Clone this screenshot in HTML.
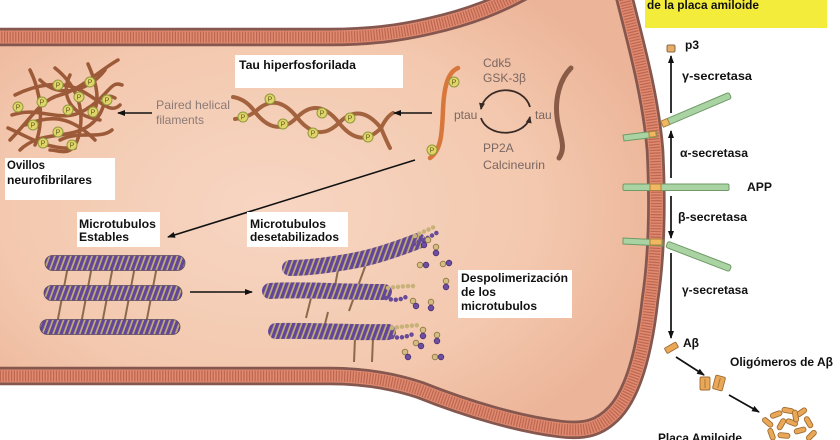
<!DOCTYPE html>
<html><head><meta charset="utf-8"><style>
html,body{margin:0;padding:0;background:#fff;}
svg{display:block;}
</style></head><body>
<svg width="840" height="440" viewBox="0 0 840 440" xmlns="http://www.w3.org/2000/svg" font-family="'Liberation Sans', Arial, sans-serif">
<defs>
 <radialGradient id="cyto" cx="0.42" cy="0.5" r="0.62">
  <stop offset="0" stop-color="#f7d6c3"/>
  <stop offset="0.65" stop-color="#f3c8ae"/>
  <stop offset="1" stop-color="#ecb498"/>
 </radialGradient>
 <pattern id="mt" patternUnits="userSpaceOnUse" width="5" height="5" patternTransform="rotate(20)">
  <rect width="5" height="5" fill="#c4ad75"/>
  <rect width="3.3" height="5" fill="#62469a"/>
 </pattern>
 <marker id="ah" markerWidth="8" markerHeight="6" refX="7" refY="3" orient="auto" markerUnits="userSpaceOnUse">
  <path d="M0,0 L8,3 L0,6 Z" fill="#111"/>
 </marker>
 <marker id="ah2" markerWidth="7" markerHeight="6" refX="6" refY="3" orient="auto" markerUnits="userSpaceOnUse">
  <path d="M0,0 L7,3 L0,6 Z" fill="#3a2a26"/>
 </marker>
</defs>

<!-- cytoplasm -->
<path d="M-10,37 L330,37 C370,37 400,33 430,26 C470,17 500,5 530,-12 L622,-12 C632,30 650,90 655,150 C658,210 656,260 650,300 C645,345 635,390 615,412 C600,428 585,432 560,429 C520,424 470,410 420,390 C390,380 360,376 330,376 L-10,376 Z" fill="url(#cyto)"/>

<!-- membranes -->
<g fill="none">
 <path d="M-10,37 L330,37 C370,37 400,33 430,26 C470,17 500,5 530,-12" stroke="#85574e" stroke-width="18.5"/>
 <path d="M-10,37 L330,37 C370,37 400,33 430,26 C470,17 500,5 530,-12" stroke="#e08a70" stroke-width="13"/>
 <path d="M-10,37 L330,37 C370,37 400,33 430,26 C470,17 500,5 530,-12" stroke="#bd6651" stroke-width="11" stroke-dasharray="1.2 1.6"/>
 <path d="M622,-12 C632,30 650,90 655,150 C658,210 656,260 650,300 C645,345 635,390 615,412 C600,428 585,432 560,429 C520,424 470,410 420,390 C390,380 360,376 330,376 L-10,376" stroke="#85574e" stroke-width="18.5"/>
 <path d="M622,-12 C632,30 650,90 655,150 C658,210 656,260 650,300 C645,345 635,390 615,412 C600,428 585,432 560,429 C520,424 470,410 420,390 C390,380 360,376 330,376 L-10,376" stroke="#e08a70" stroke-width="13"/>
 <path d="M622,-12 C632,30 650,90 655,150 C658,210 656,260 650,300 C645,345 635,390 615,412 C600,428 585,432 560,429 C520,424 470,410 420,390 C390,380 360,376 330,376 L-10,376" stroke="#bd6651" stroke-width="11" stroke-dasharray="1.2 1.6"/>
</g>

<!-- yellow title box -->
<rect x="645" y="-2" width="182" height="30" fill="#f4ec3a"/>
<text x="647" y="9" font-size="12" font-weight="bold" fill="#111" textLength="112" lengthAdjust="spacingAndGlyphs">de la placa amiloide</text>

<!-- tangle -->
<g fill="none" stroke="#9c5a38" stroke-width="3.5" stroke-linecap="round">
 <path d="M10,140 C30,120 40,100 60,95 S100,70 118,60"/>
 <path d="M15,95 C35,85 60,80 80,90 S110,115 120,105"/>
 <path d="M20,150 C40,130 70,140 90,125 S100,90 115,98"/>
 <path d="M30,70 C40,90 45,120 35,145"/>
 <path d="M55,68 C70,80 85,100 80,130 S60,150 50,150"/>
 <path d="M12,115 C40,105 60,125 85,110 S110,80 122,85"/>
 <path d="M40,80 C60,100 90,90 105,70"/>
 <path d="M25,125 C50,115 70,115 95,140"/>
 <path d="M70,75 C60,95 70,115 100,120"/>
 <path d="M88,64 C95,80 100,95 95,110"/>
 <path d="M8,128 C25,135 45,150 75,148"/>
 <path d="M60,140 C80,130 100,140 112,130"/>
</g>
<g font-size="7" text-anchor="middle" fill="#5e5e1c">
 <circle cx="58" cy="85" r="5" fill="#e2d46a" stroke="#8f9a3c"/><text x="58" y="87.5">P</text>
 <circle cx="90" cy="82" r="5" fill="#e2d46a" stroke="#8f9a3c"/><text x="90" y="84.5">P</text>
 <circle cx="107" cy="100" r="5" fill="#e2d46a" stroke="#8f9a3c"/><text x="107" y="102.5">P</text>
 <circle cx="79" cy="97" r="5" fill="#e2d46a" stroke="#8f9a3c"/><text x="79" y="99.5">P</text>
 <circle cx="42" cy="102" r="5" fill="#e2d46a" stroke="#8f9a3c"/><text x="42" y="104.5">P</text>
 <circle cx="68" cy="110" r="5" fill="#e2d46a" stroke="#8f9a3c"/><text x="68" y="112.5">P</text>
 <circle cx="93" cy="112" r="5" fill="#e2d46a" stroke="#8f9a3c"/><text x="93" y="114.5">P</text>
 <circle cx="18" cy="107" r="5" fill="#e2d46a" stroke="#8f9a3c"/><text x="18" y="109.5">P</text>
 <circle cx="33" cy="125" r="5" fill="#e2d46a" stroke="#8f9a3c"/><text x="33" y="127.5">P</text>
 <circle cx="58" cy="132" r="5" fill="#e2d46a" stroke="#8f9a3c"/><text x="58" y="134.5">P</text>
 <circle cx="43" cy="143" r="5" fill="#e2d46a" stroke="#8f9a3c"/><text x="43" y="145.5">P</text>
 <circle cx="72" cy="145" r="5" fill="#e2d46a" stroke="#8f9a3c"/><text x="72" y="147.5">P</text>
</g>

<!-- hyperphosphorylated tau strands -->
<g fill="none" stroke="#a4633f" stroke-width="4" stroke-linecap="round">
 <path d="M233,97 Q246,99 255,112 Q276,138.7 297,117.4 T339,122.8 T381,128.1 Q387,116 393,113"/>
 <path d="M235,119 Q246,118 255,112 Q276,91 297,117.4 T339,122.8 T381,128.1 Q386,140 390,148"/>
</g>
<g font-size="7" text-anchor="middle" fill="#5e5e1c">
 <circle cx="270" cy="99" r="5" fill="#e2d46a" stroke="#8f9a3c"/><text x="270" y="101.5">P</text>
 <circle cx="243" cy="117" r="5" fill="#e2d46a" stroke="#8f9a3c"/><text x="243" y="119.5">P</text>
 <circle cx="283" cy="124" r="5" fill="#e2d46a" stroke="#8f9a3c"/><text x="283" y="126.5">P</text>
 <circle cx="322" cy="113" r="5" fill="#e2d46a" stroke="#8f9a3c"/><text x="322" y="115.5">P</text>
 <circle cx="313" cy="133" r="5" fill="#e2d46a" stroke="#8f9a3c"/><text x="313" y="135.5">P</text>
 <circle cx="350" cy="118" r="5" fill="#e2d46a" stroke="#8f9a3c"/><text x="350" y="120.5">P</text>
 <circle cx="368" cy="137" r="5" fill="#e2d46a" stroke="#8f9a3c"/><text x="368" y="139.5">P</text>
</g>

<!-- ptau / tau -->
<path d="M458,68 C448,72 444,86 443,110 C442,135 441,150 430,158" fill="none" stroke="#d8773c" stroke-width="4.5" stroke-linecap="round"/>
<path d="M571,68 C559,80 555,100 557,117 C559,135 567,146 559,158" fill="none" stroke="#8a5c48" stroke-width="5" stroke-linecap="round"/>
<g font-size="7" text-anchor="middle" fill="#5e5e1c">
 <circle cx="454" cy="82" r="5" fill="#e2d46a" stroke="#8f9a3c"/><text x="454" y="84.5">P</text>
 <circle cx="432" cy="150" r="5" fill="#e2d46a" stroke="#8f9a3c"/><text x="432" y="152.5">P</text>
</g>
<path d="M530,107 A25,22 0 0 0 481,109" fill="none" stroke="#3a2a26" stroke-width="1.8" marker-end="url(#ah2)"/>
<path d="M481,118 A25,19 0 0 0 530,117" fill="none" stroke="#3a2a26" stroke-width="1.8" marker-end="url(#ah2)"/>
<g font-size="12" fill="#7a6662">
 <text x="483" y="67">Cdk5</text>
 <text x="483" y="82">GSK-3β</text>
 <text x="454" y="119">ptau</text>
 <text x="535" y="119">tau</text>
 <text x="483" y="152">PP2A</text>
 <text x="483" y="169" textLength="62" lengthAdjust="spacingAndGlyphs">Calcineurin</text>
 <text x="156" y="109" fill="#8c7a76" textLength="74" lengthAdjust="spacingAndGlyphs">Paired helical</text>
 <text x="156" y="124" fill="#8c7a76">filaments</text>
</g>

<!-- arrows left region -->
<g stroke="#111" stroke-width="1.6" fill="none">
 <line x1="152" y1="113" x2="118" y2="113" marker-end="url(#ah)"/>
 <line x1="432" y1="113" x2="394" y2="113" marker-end="url(#ah)"/>
 <line x1="415" y1="160" x2="168" y2="237" marker-end="url(#ah)"/>
 <line x1="190" y1="292" x2="252" y2="292" marker-end="url(#ah)"/>
</g>

<!-- label boxes -->
<rect x="235" y="55" width="168" height="33" fill="#fff"/>
<rect x="5" y="158" width="110" height="42" fill="#fff"/>
<rect x="77" y="212" width="83" height="35" fill="#fff"/>
<rect x="247" y="212" width="101" height="35" fill="#fff"/>
<rect x="458" y="270" width="114" height="48" fill="#fff"/>
<g font-size="12" font-weight="bold" fill="#111">
 <text x="239" y="69" textLength="117" lengthAdjust="spacingAndGlyphs">Tau hiperfosforilada</text>
 <text x="7" y="169" textLength="38" lengthAdjust="spacingAndGlyphs">Ovillos</text>
 <text x="7" y="184" textLength="85" lengthAdjust="spacingAndGlyphs">neurofibrilares</text>
 <text x="79" y="228" textLength="77" lengthAdjust="spacingAndGlyphs">Microtubulos</text>
 <text x="79" y="241" textLength="50" lengthAdjust="spacingAndGlyphs">Estables</text>
 <text x="250" y="228" textLength="76" lengthAdjust="spacingAndGlyphs">Microtubulos</text>
 <text x="250" y="241" textLength="89" lengthAdjust="spacingAndGlyphs">desetabilizados</text>
 <text x="461" y="282" textLength="107" lengthAdjust="spacingAndGlyphs">Despolimerización</text>
 <text x="461" y="296" textLength="35" lengthAdjust="spacingAndGlyphs">de los</text>
 <text x="461" y="310" textLength="76" lengthAdjust="spacingAndGlyphs">microtubulos</text>
</g>

<!-- stable microtubules -->
<g stroke="#8b6a4a" stroke-width="2">
 <line x1="68" y1="266" x2="57" y2="324"/>
 <line x1="92" y1="266" x2="81" y2="324"/>
 <line x1="113" y1="266" x2="102" y2="324"/>
 <line x1="135" y1="266" x2="124" y2="324"/>
 <line x1="157" y1="266" x2="146" y2="324"/>
</g>
<g fill="url(#mt)" stroke="#5a4a60" stroke-width="0.8">
 <rect x="45" y="255.5" width="140" height="15" rx="7.5"/>
 <rect x="44" y="285.5" width="138" height="15" rx="7.5"/>
 <rect x="40" y="319.5" width="140" height="15" rx="7.5"/>
</g>

<!-- destabilized microtubules -->
<g stroke="#8b6a4a" stroke-width="2">
 <line x1="338" y1="270" x2="335" y2="286"/>
 <line x1="366" y1="264" x2="349" y2="311"/>
 <line x1="311" y1="298" x2="306" y2="318"/>
 <line x1="328" y1="312" x2="323" y2="332"/>
 <line x1="355" y1="338" x2="354" y2="362"/>
 <line x1="373" y1="338" x2="372" y2="362"/>
</g>
<g fill="none" stroke="url(#mt)" stroke-width="16" stroke-linecap="round">
 <path d="M290,268 C310,268 330,265 352,261 S395,250 418,241"/>
 <path d="M270,291 C300,289 340,292 384,292"/>
 <path d="M276,331 C310,330 350,333 388,332"/>
</g>
<g fill="none" stroke-width="4.5" stroke-linecap="round" stroke-dasharray="0 5">
 <path d="M414,244 C422,241 430,237 438,232" stroke="#674a98"/>
 <path d="M415,236 C422,232 428,230 434,227" stroke="#c9b27a"/>
 <path d="M388,288 Q402,286 415,286" stroke="#c9b27a"/>
 <path d="M386,298 Q396,302 406,297" stroke="#674a98"/>
 <path d="M392,328 Q406,326 420,325" stroke="#c9b27a"/>
 <path d="M392,337 Q402,339 413,334" stroke="#674a98"/>
</g>
<g stroke-width="0.8">
 <circle cx="436" cy="247" r="2.8" fill="#d3bd82" stroke="#8a7040"/><circle cx="436" cy="253" r="2.8" fill="#6e4ea2" stroke="#4a3070"/>
 <circle cx="420" cy="265" r="2.8" fill="#d3bd82" stroke="#8a7040"/><circle cx="426" cy="265" r="2.8" fill="#6e4ea2" stroke="#4a3070"/>
 <circle cx="443" cy="264" r="2.8" fill="#d3bd82" stroke="#8a7040"/><circle cx="449" cy="263" r="2.8" fill="#6e4ea2" stroke="#4a3070"/>
 <circle cx="446" cy="281" r="2.8" fill="#d3bd82" stroke="#8a7040"/><circle cx="446" cy="287" r="2.8" fill="#6e4ea2" stroke="#4a3070"/>
 <circle cx="413" cy="301" r="2.8" fill="#d3bd82" stroke="#8a7040"/><circle cx="416" cy="306" r="2.8" fill="#6e4ea2" stroke="#4a3070"/>
 <circle cx="431" cy="302" r="2.8" fill="#d3bd82" stroke="#8a7040"/><circle cx="431" cy="308" r="2.8" fill="#6e4ea2" stroke="#4a3070"/>
 <circle cx="423" cy="330" r="2.8" fill="#d3bd82" stroke="#8a7040"/><circle cx="423" cy="336" r="2.8" fill="#6e4ea2" stroke="#4a3070"/>
 <circle cx="437" cy="335" r="2.8" fill="#d3bd82" stroke="#8a7040"/><circle cx="437" cy="341" r="2.8" fill="#6e4ea2" stroke="#4a3070"/>
 <circle cx="416" cy="343" r="2.8" fill="#d3bd82" stroke="#8a7040"/><circle cx="421" cy="346" r="2.8" fill="#6e4ea2" stroke="#4a3070"/>
 <circle cx="405" cy="352" r="2.8" fill="#d3bd82" stroke="#8a7040"/><circle cx="408" cy="357" r="2.8" fill="#6e4ea2" stroke="#4a3070"/>
 <circle cx="435" cy="357" r="2.8" fill="#d3bd82" stroke="#8a7040"/><circle cx="441" cy="357" r="2.8" fill="#6e4ea2" stroke="#4a3070"/>
 <circle cx="428" cy="240" r="2.8" fill="#d3bd82" stroke="#8a7040"/><circle cx="424" cy="245" r="2.8" fill="#6e4ea2" stroke="#4a3070"/>
</g>

<!-- APP proteins -->
<g stroke="#6f9a66" stroke-width="1">
 <path d="M623,135 L656,131 L657,137 L624,141 Z" fill="#a9d3a2"/>
 <rect x="649" y="131.5" width="7" height="5.5" fill="#f0b860" stroke="#b08040" transform="rotate(-7 652 134)"/>
 <g transform="rotate(-23 662 124)">
  <rect x="662" y="121" width="74" height="6.5" rx="2" fill="#a9d3a2"/>
  <rect x="662" y="121" width="7" height="6.5" fill="#f0b860" stroke="#b08040"/>
 </g>
 <rect x="623" y="184" width="106" height="6.5" rx="1.5" fill="#a9d3a2"/>
 <rect x="650" y="184" width="11" height="6.5" fill="#f0b860" stroke="#b08040"/>
 <path d="M623,238 L663,240 L663,246 L623,244 Z" fill="#a9d3a2"/>
 <rect x="650" y="239" width="12" height="6" fill="#f0b860" stroke="#b08040"/>
 <g transform="rotate(21 667 244)">
  <rect x="667" y="241" width="68" height="6.5" rx="2" fill="#a9d3a2"/>
 </g>
</g>

<!-- secretase arrows -->
<g stroke="#111" stroke-width="1.7" fill="none">
 <line x1="671" y1="113" x2="671" y2="56" marker-end="url(#ah)"/>
 <line x1="671" y1="178" x2="671" y2="131" marker-end="url(#ah)"/>
 <line x1="671" y1="196" x2="671" y2="238" marker-end="url(#ah)"/>
 <line x1="671" y1="253" x2="671" y2="338" marker-end="url(#ah)"/>
 <line x1="676" y1="357" x2="704" y2="375" marker-end="url(#ah)"/>
 <line x1="729" y1="395" x2="759" y2="412" marker-end="url(#ah)"/>
</g>
<rect x="667" y="45" width="8" height="7" rx="1.5" fill="#e6ac68" stroke="#8a6a40"/>
<g font-size="12" font-weight="bold" fill="#111">
 <text x="685" y="49">p3</text>
 <text x="682" y="80" textLength="70" lengthAdjust="spacingAndGlyphs">γ-secretasa</text>
 <text x="680" y="157" textLength="68" lengthAdjust="spacingAndGlyphs">α-secretasa</text>
 <text x="747" y="191" textLength="25" lengthAdjust="spacingAndGlyphs">APP</text>
 <text x="678" y="221" textLength="69" lengthAdjust="spacingAndGlyphs">β-secretasa</text>
 <text x="682" y="294" textLength="66" lengthAdjust="spacingAndGlyphs">γ-secretasa</text>
 <text x="683" y="347">Aβ</text>
 <text x="730" y="366" textLength="103" lengthAdjust="spacingAndGlyphs">Oligómeros de Aβ</text>
 <text x="658" y="442" textLength="84" lengthAdjust="spacingAndGlyphs">Placa Amiloide</text>
</g>

<!-- Abeta, oligomers, plaque -->
<g fill="#e8a858" stroke="#a06a30" stroke-width="0.9">
 <rect x="665" y="345" width="13" height="6" rx="1" transform="rotate(-30 671 348)"/>
 <rect x="700" y="377" width="10" height="13" rx="1.5"/>
 <rect x="714" y="376" width="10" height="14" rx="1.5" transform="rotate(15 719 383)"/>
 <rect x="762" y="420" width="12" height="5" rx="2.5" transform="rotate(40 768 422)"/>
 <rect x="770" y="412" width="12" height="5" rx="2.5" transform="rotate(-20 776 414)"/>
 <rect x="782" y="408" width="12" height="5" rx="2.5" transform="rotate(10 788 410)"/>
 <rect x="795" y="410" width="12" height="5" rx="2.5" transform="rotate(-35 801 412)"/>
 <rect x="803" y="420" width="12" height="5" rx="2.5" transform="rotate(60 809 422)"/>
 <rect x="775" y="422" width="12" height="5" rx="2.5" transform="rotate(-60 781 424)"/>
 <rect x="786" y="420" width="12" height="5" rx="2.5" transform="rotate(20 792 422)"/>
 <rect x="794" y="428" width="12" height="5" rx="2.5" transform="rotate(-15 800 430)"/>
 <rect x="766" y="432" width="12" height="5" rx="2.5" transform="rotate(70 772 434)"/>
 <rect x="778" y="433" width="12" height="5" rx="2.5" transform="rotate(5 784 435)"/>
 <rect x="805" y="433" width="12" height="5" rx="2.5" transform="rotate(-45 811 435)"/>
 <rect x="790" y="414" width="12" height="5" rx="2.5" transform="rotate(80 796 416)"/>
</g>
<g stroke="#a06a30" stroke-width="0.8">
 <line x1="705" y1="379" x2="705" y2="388"/>
 <line x1="719" y1="378" x2="719" y2="388" transform="rotate(15 719 383)"/>
</g>
</svg>
</body></html>
